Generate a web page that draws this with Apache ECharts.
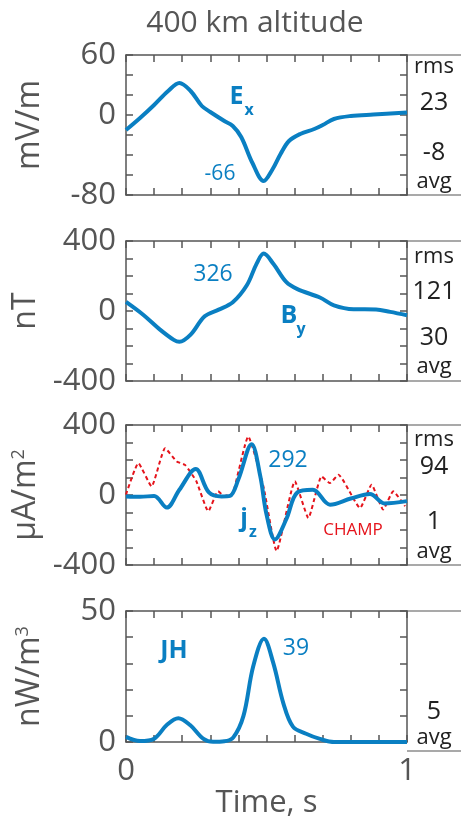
<!DOCTYPE html>
<html><head><meta charset="utf-8">
<script src="https://cdn.jsdelivr.net/npm/echarts@6/dist/echarts.min.js"></script>
<style>html,body{margin:0;padding:0;background:#fff}#c{width:461px;height:820px}</style>
</head><body><div id="c"></div>
<script>
// ---- data ----
const exT = [0, 0.05, 0.10, 0.15, 0.19, 0.23, 0.27, 0.30, 0.35, 0.38, 0.41, 0.45, 0.49, 0.52, 0.55, 0.58, 0.62, 0.67, 0.70, 0.74, 0.80, 0.88, 1.0];
const exV = [-15, -3, 10, 24, 32, 24, 9, 3, -6, -11, -22, -48, -66, -55, -39, -26, -19, -14, -10, -4, -1, 0.5, 2.5];

const byT = [0, 0.06, 0.12, 0.17, 0.19, 0.23, 0.28, 0.33, 0.38, 0.43, 0.465, 0.49, 0.525, 0.57, 0.61, 0.69, 0.74, 0.81, 0.89, 0.94, 1.0];
const byV = [52, -20, -105, -165, -176, -135, -30, 8, 50, 147, 271, 328, 268, 166, 125, 77, 32, 10, 9, -5, -24];

const jzT = [0, 0.05, 0.10, 0.145, 0.19, 0.248, 0.295, 0.34, 0.37, 0.40, 0.447, 0.478, 0.50, 0.53, 0.57, 0.61, 0.665, 0.726, 0.80, 0.868, 0.92, 1.0];
const jzV = [-8, -10, -6, -72, 30, 148, 15, -8, -5, 90, 290, 106, -110, -254, -140, 15, 30, -55, -20, 6, -48, -35];

const champT = [0, 0.044, 0.091, 0.139, 0.181, 0.21, 0.25, 0.293, 0.328, 0.35, 0.38, 0.435, 0.489, 0.536, 0.601, 0.649, 0.696, 0.726, 0.756, 0.833, 0.874, 0.915, 0.951, 0.993];
const champV = [2, 182, 49, 267, 191, 172, 80, -93, 21, -5, 10, 334, 49, -320, 78, -131, 106, 68, 116, -74, 59, -83, 21, -64];

const jhT = [0, 0.05, 0.10, 0.145, 0.186, 0.228, 0.276, 0.31, 0.35, 0.382, 0.418, 0.453, 0.491, 0.524, 0.56, 0.594, 0.641, 0.69, 0.74, 1.0];
const jhV = [2, 0.4, 1.3, 6.5, 9.1, 6.5, 1.2, 0.1, 0.3, 1.8, 10, 29, 39.4, 30.2, 14.8, 5.9, 3.2, 1.2, 0, 0];

const xTickLabels = [0, 1];
const exTickLabels = [-80, 0, 60];
const byTickLabels = [-400, 0, 400];
const jzTickLabels = [-400, 0, 400];
const jhTickLabels = [0, 50];

const titleText = '400 km altitude';
const xName = 'Time, s';
const rightStats = [
  {rms: '23', avg: '-8'},
  {rms: '121', avg: '30'},
  {rms: '94', avg: '1'},
  {rms: null, avg: '5'}
];

// ---- style / layout ----
const FONT = '"Open Sans", "Noto Sans", sans-serif';
const BLUE = '#0a7fc2';
const RED = '#e5131b';
const AX = '#555555';
const GL = 126, GW = 281, GH = 140;
const tops = [55, 241, 425, 611];

const panels = [
  {min: -80, max: 60, interval: 20, labels: exTickLabels, name: 'mV/m'},
  {min: -400, max: 400, interval: 100, labels: byTickLabels, name: 'nT'},
  {min: -400, max: 400, interval: 100, labels: jzTickLabels, name: '{a|μA/m}{b|2}'},
  {min: 0, max: 50, interval: 10, labels: jhTickLabels, name: '{a|nW/m}{b|3}'}
];

const pairs = (t, v) => t.map((x, k) => [x, v[k]]);

const grid = [], xAxis = [], yAxis = [], series = [], graphic = [];
const lineStyle = {color: AX, width: 1.5};
panels.forEach((p, i) => {
  grid.push({left: GL, top: tops[i], width: GW, height: GH});
  const tick = {show: true, inside: true, length: 7, lineStyle};
  xAxis.push({type: 'value', gridIndex: i, min: 0, max: 1, interval: 0.1, position: 'bottom',
    axisLine: {show: true, onZero: false, lineStyle}, axisTick: tick, splitLine: {show: false},
    axisLabel: {show: i === 3, fontSize: 31, color: AX, fontFamily: FONT, margin: 14,
      formatter: v => xTickLabels.some(l => Math.abs(l - v) < 1e-9) ? String(Math.round(v)) : ''},
    name: i === 3 ? xName : '', nameLocation: 'middle', nameGap: 42,
    nameTextStyle: {fontSize: 31, color: AX, fontFamily: FONT}});
  xAxis.push({type: 'value', gridIndex: i, min: 0, max: 1, interval: 0.1, position: 'top',
    axisLine: {show: true, onZero: false, lineStyle}, axisTick: tick, splitLine: {show: false},
    axisLabel: {show: false}});
  yAxis.push({type: 'value', gridIndex: i, min: p.min, max: p.max, interval: p.interval, position: 'left',
    axisLine: {show: true, onZero: false, lineStyle}, axisTick: tick, splitLine: {show: false},
    axisLabel: {fontSize: 31, color: AX, fontFamily: FONT, margin: 10,
      formatter: v => p.labels.includes(Math.round(v)) ? String(Math.round(v)) : ''},
    name: p.name, nameLocation: 'middle', nameGap: 80, nameRotate: 90,
    nameTextStyle: {fontSize: 32, color: AX, fontFamily: FONT,
      rich: {a: {fontSize: 32, color: AX, fontFamily: FONT}, b: {fontSize: 18, color: AX, fontFamily: FONT, verticalAlign: 'top'}}}});
  yAxis.push({type: 'value', gridIndex: i, min: p.min, max: p.max, interval: p.interval, position: 'right',
    axisLine: {show: true, onZero: false, lineStyle}, axisTick: tick, splitLine: {show: false},
    axisLabel: {show: false}});
  // right-hand box extension lines
  [tops[i], tops[i] + GH].forEach(y => graphic.push({type: 'line', shape: {x1: GL + GW, y1: y, x2: 461, y2: y},
    style: {stroke: AX, lineWidth: 1.2}, z: 10}));
});

const blueLine = (name, d, idx) => ({name, type: 'line', xAxisIndex: 2 * idx, yAxisIndex: 2 * idx, data: d,
  showSymbol: false, smooth: 0.35, lineStyle: {color: BLUE, width: 4}, z: 3});
series.push(blueLine('Ex', pairs(exT, exV), 0));
series.push(blueLine('By', pairs(byT, byV), 1));
series.push({name: 'CHAMP', type: 'line', xAxisIndex: 4, yAxisIndex: 4, data: pairs(champT, champV),
  showSymbol: false, smooth: 0.15, lineStyle: {color: RED, width: 2, type: [4, 3]}, z: 2});
series.push(blueLine('jz', pairs(jzT, jzV), 2));
series.push(blueLine('JH', pairs(jhT, jhV), 3));

// text annotations
const txt = (text, x, y, size, color, weight) => ({type: 'text', x, y, z: 20,
  style: {text, fontSize: size, fill: color, fontFamily: FONT, fontWeight: weight || 'normal', align: 'center', verticalAlign: 'middle'}});
graphic.push(txt(titleText, 255, 23, 30, AX));
const statY = [[67, 103, 153, 182], [257, 292, 338, 367], [440, 467, 522, 552], [null, null, 712, 738]];
rightStats.forEach((s, i) => {
  const ys = statY[i];
  if (s.rms !== null) {
    graphic.push(txt('rms', 434, ys[0], 22, '#222'));
    graphic.push(txt(s.rms, 434, ys[1], 25, '#222'));
  }
  graphic.push(txt(s.avg, 434, ys[2], 25, '#222'));
  graphic.push(txt('avg', 434, ys[3], 22, '#222'));
});
graphic.push(txt('-66', 220, 174, 21, BLUE));
graphic.push(txt('E', 236.5, 97, 25, BLUE, 'bold'));
graphic.push(txt('x', 249, 110, 16, BLUE, 'bold'));
graphic.push(txt('326', 213, 274, 23, BLUE));
graphic.push(txt('B', 289, 316, 25, BLUE, 'bold'));
graphic.push(txt('y', 301, 329, 16, BLUE, 'bold'));
graphic.push(txt('292', 288, 460, 23, BLUE));
graphic.push(txt('j', 244, 519, 25, BLUE, 'bold'));
graphic.push(txt('z', 253, 532, 16, BLUE, 'bold'));
graphic.push(txt('CHAMP', 353, 530, 17, RED));
graphic.push(txt('JH', 174, 651, 25, BLUE, 'bold'));
graphic.push(txt('39', 296, 648, 23, BLUE));

const chart = echarts.init(document.getElementById('c'), null, {renderer: 'canvas'});
chart.setOption({animation: false, backgroundColor: '#fff', grid, xAxis, yAxis, series, graphic});
</script></body></html>
